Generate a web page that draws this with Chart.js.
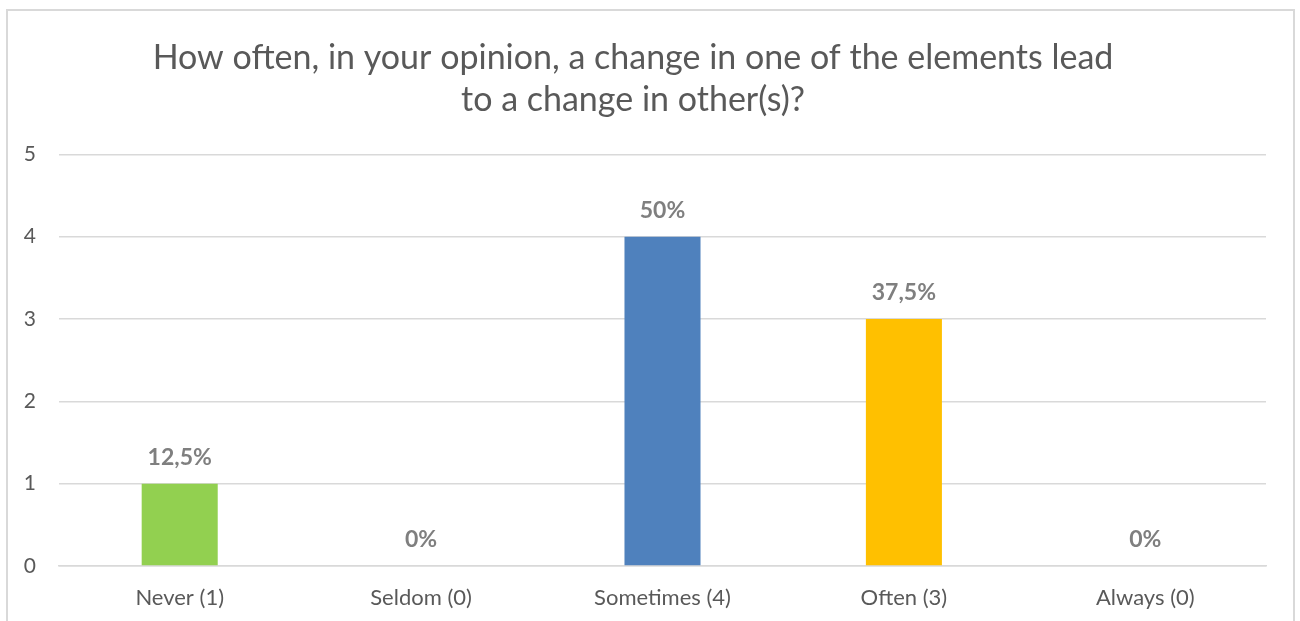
<!DOCTYPE html>
<html>
<head>
<meta charset="utf-8">
<script src="https://cdn.jsdelivr.net/npm/chart.js@4/dist/chart.umd.min.js"></script>
<style>
  html, body { margin: 0; padding: 0; background: #fff; }
  #wrap { position: relative; width: 1300px; height: 621px; overflow: hidden; }
  #frame { position: absolute; left: 6px; top: 9px; width: 1289px; height: 660px; border: 2px solid #d9d9d9; box-sizing: border-box; }
  #chart { position: absolute; left: 0; top: 0; }
</style>
</head>
<body>
<div id="wrap">
  <div id="frame"></div>
  <canvas id="chart" width="1300" height="621"></canvas>
</div>
<script>
// answers per option
var categories = ['Never (1)', 'Seldom (0)', 'Sometimes (4)', 'Often (3)', 'Always (0)'];
var counts = [1, 0, 4, 3, 0];
var barColors = ['#92d050', '#92d050', '#4f81bd', '#ffc000', '#ffc000'];
var yTicks = [0, 1, 2, 3, 4, 5];

var total = counts.reduce(function (a, b) { return a + b; }, 0);

function pctLabel(v) {
  var p = v / total * 100;
  return String(+p.toFixed(1)).replace('.', ',') + '%';
}

// percentage above every bar
var valueLabels = {
  id: 'valueLabels',
  afterDatasetsDraw: function (chart) {
    var ctx = chart.ctx;
    var meta = chart.getDatasetMeta(0);
    ctx.save();
    ctx.font = 'bold 23px Lato';
    ctx.fillStyle = '#7f7f7f';
    ctx.textAlign = 'center';
    ctx.textBaseline = 'middle';
    meta.data.forEach(function (bar, i) {
      ctx.fillText(pctLabel(counts[i]), bar.x, bar.y - 26);
    });
    ctx.restore();
  }
};

var ctxChart = document.getElementById('chart').getContext('2d');
var chart = new Chart(ctxChart, {
  type: 'bar',
  data: {
    labels: categories,
    datasets: [{
      data: counts,
      backgroundColor: barColors,
      borderWidth: 0,
      categoryPercentage: 1,
      barPercentage: 0.315
    }]
  },
  options: {
    responsive: false,
    animation: false,
    layout: { padding: { left: 0, right: 34, top: 0, bottom: 0 } },
    plugins: {
      legend: { display: false },
      tooltip: { enabled: false },
      title: {
        display: true,
        text: ['How often, in your opinion, a change in one of the elements lead', 'to a change in other(s)?'],
        color: '#595959',
        font: { family: 'Lato', size: 34, weight: 'normal', lineHeight: 1.24 },
        padding: { top: 37, bottom: 33 }
      }
    },
    scales: {
      x: {
        grid: { display: false, drawTicks: false },
        border: { display: true, color: '#d9d9d9', width: 1.5 },
        ticks: { color: '#595959', font: { family: 'Lato', size: 22 }, padding: 19 },
        afterFit: function (scale) { scale.height = 55; }
      },
      y: {
        min: 0,
        max: 5,
        afterBuildTicks: function (scale) {
          scale.ticks = yTicks.map(function (v) { return { value: v }; });
        },
        grid: { color: '#d9d9d9', lineWidth: 1.5, drawTicks: false },
        border: { display: false },
        ticks: { color: '#595959', font: { family: 'Lato', size: 21 }, padding: 23 },
        afterFit: function (scale) { scale.width = 59; }
      }
    }
  },
  plugins: [valueLabels]
});
</script>
</body>
</html>
